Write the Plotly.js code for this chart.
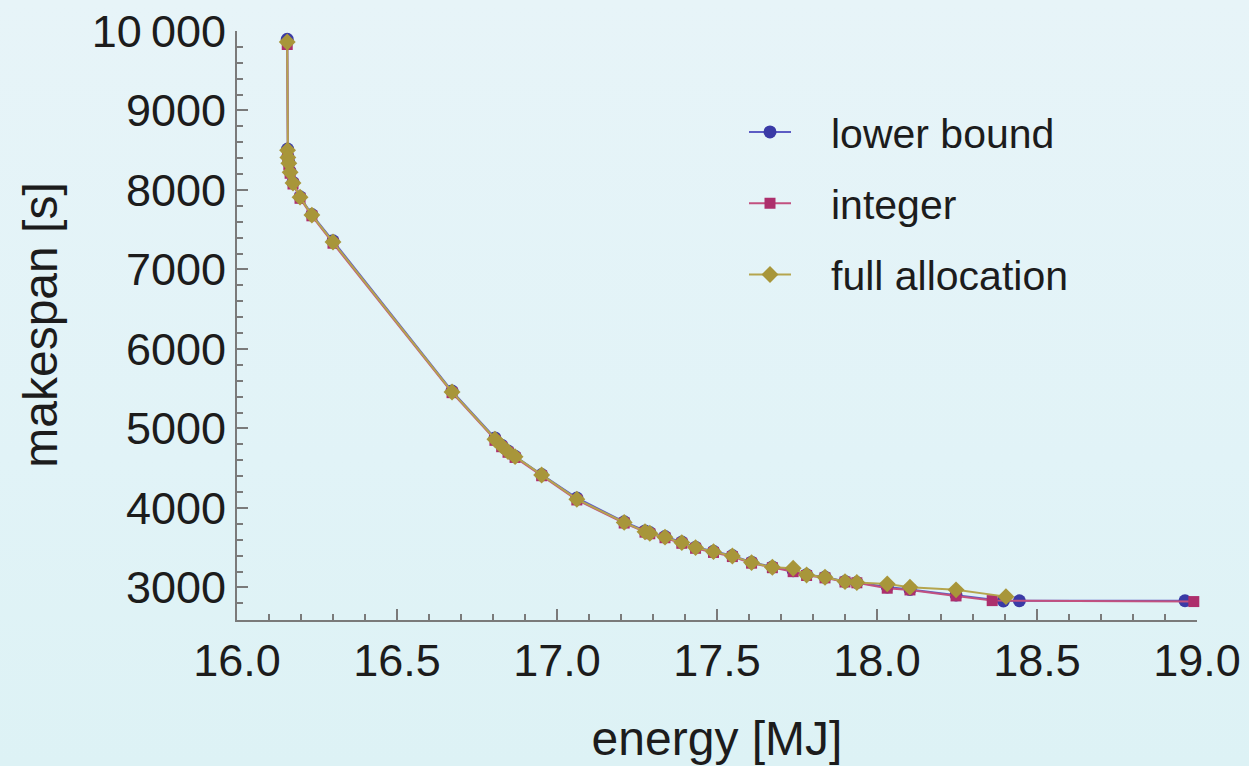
<!DOCTYPE html>
<html>
<head>
<meta charset="utf-8">
<script src="https://cdn.plot.ly/plotly-3.0.1.min.js"></script>
<style>
html,body{margin:0;padding:0;width:1249px;height:766px;overflow:hidden;
background:linear-gradient(180deg,#e7f4f8 0%,#e1f3f7 60%,#ddf2f5 100%);}
#chart{width:1249px;height:766px;}
</style>
</head>
<body>
<div id="chart"></div>
<script>
// energy [MJ] and makespan [s]
const lowerX = [16.157,16.158,16.159,16.162,16.166,16.175,16.197,16.234,16.30,16.672,16.806,16.827,16.847,16.869,16.952,17.062,17.21,17.275,17.29,17.3375,17.39,17.433,17.489,17.548,17.608,17.673,17.738,17.78,17.8375,17.90,17.937,18.032,18.103,18.247,18.395,18.445,18.9625];
const lowerY = [9895,8515,8420,8345,8230,8095,7915,7690,7360,5470,4880,4790,4715,4650,4420,4125,3825,3710,3690,3640,3570,3505,3455,3400,3318,3258,3210,3160,3130,3075,3062,3005,2975,2905,2830,2832,2832];

const integerX = [16.157,16.158,16.159,16.162,16.166,16.175,16.197,16.234,16.30,16.672,16.806,16.827,16.847,16.869,16.952,17.062,17.21,17.275,17.29,17.3375,17.39,17.433,17.489,17.548,17.608,17.673,17.738,17.78,17.8375,17.90,17.937,18.032,18.103,18.247,18.36,18.99];
const integerY = [9830,8470,8395,8320,8210,8075,7895,7675,7330,5450,4850,4770,4700,4635,4405,4100,3810,3695,3675,3625,3555,3492,3440,3388,3305,3248,3198,3150,3120,3068,3058,2990,2968,2893,2834,2822];

const fullX = [16.157,16.158,16.159,16.162,16.166,16.175,16.197,16.234,16.30,16.672,16.806,16.827,16.847,16.869,16.952,17.062,17.21,17.275,17.29,17.3375,17.39,17.433,17.489,17.548,17.608,17.673,17.738,17.78,17.8375,17.90,17.937,18.032,18.103,18.247,18.403];
const fullY = [9862,8500,8410,8335,8222,8088,7910,7684,7345,5459,4864,4780,4708,4645,4415,4110,3818,3701,3681,3632,3564,3501,3450,3396,3312,3254,3241,3157,3128,3073,3061,3044,3003,2969,2884];

const names = ["lower bound","integer","full allocation"];
const yTickVals = [3000,4000,5000,6000,7000,8000,9000,10000];
const yTickText = ["3000","4000","5000","6000","7000","8000","9000","10\u2009000"];
const xTickVals = [16.0,16.5,17.0,17.5,18.0,18.5,19.0];
const xTickText = ["16.0","16.5","17.0","17.5","18.0","18.5","19.0"];
const xTitle = "energy [MJ]";
const yTitle = "makespan [s]";

const font = "Liberation Sans, Arial, Helvetica, sans-serif";
const txt = "#1c1c1c";

const traces = [
  {x: lowerX, y: lowerY, name: names[0], mode: "lines+markers", legendgroup: "a",
   line: {color: "#5c5cc4", width: 2}, marker: {symbol: "circle", size: 13, color: "#3a3aa6"}, cliponaxis: false},
  {x: integerX, y: integerY, name: names[1], mode: "lines+markers", legendgroup: "b",
   line: {color: "#c2507f", width: 2}, marker: {symbol: "square", size: 11, color: "#ad2f6c"}, cliponaxis: false},
  {x: fullX, y: fullY, name: names[2], mode: "lines+markers", legendgroup: "c",
   line: {color: "#b5a54e", width: 2}, marker: {symbol: "diamond", size: 13, color: "#a8963a"}, cliponaxis: false}
];

const layout = {
  width: 1249, height: 766,
  paper_bgcolor: "rgba(0,0,0,0)", plot_bgcolor: "rgba(0,0,0,0)",
  margin: {l: 237, r: 52, t: 31, b: 146},
  font: {family: font, color: txt},
  showlegend: true,
  legend: {x: 0.525, y: 0.885, xanchor: "left", yanchor: "top",
           bgcolor: "rgba(0,0,0,0)", font: {size: 41, family: font, color: txt},
           traceorder: "grouped", tracegroupgap: 15, itemwidth: 80},
  xaxis: {
    range: [16, 19], showgrid: false, zeroline: false,
    showline: true, linecolor: "#7a7a7a", linewidth: 2,
    tickmode: "array", tickvals: xTickVals, ticktext: xTickText,
    ticks: "inside", ticklen: 11, tickwidth: 2, tickcolor: "#7a7a7a",
    minor: {dtick: 0.1, ticks: "inside", ticklen: 6, tickwidth: 2, tickcolor: "#7a7a7a"},
    tickfont: {size: 45, family: font, color: txt},
    title: {text: xTitle, font: {size: 48, family: font, color: txt}, standoff: 36}
  },
  yaxis: {
    range: [2590, 10000], showgrid: false, zeroline: false,
    showline: true, linecolor: "#7a7a7a", linewidth: 2,
    tickmode: "array", tickvals: yTickVals, ticktext: yTickText,
    ticks: "inside", ticklen: 11, tickwidth: 2, tickcolor: "#7a7a7a",
    minor: {dtick: 200, ticks: "inside", ticklen: 6, tickwidth: 2, tickcolor: "#7a7a7a"},
    tickfont: {size: 45, family: font, color: txt}
  },
  annotations: [{
    text: yTitle, xref: "paper", yref: "paper", x: -0.205, y: 0.5,
    xanchor: "center", yanchor: "middle", textangle: -90, showarrow: false,
    font: {size: 48, family: font, color: txt}
  }]
};

Plotly.newPlot("chart", traces, layout, {displayModeBar: false, staticPlot: true}).then(function (gd) {
  // shorten the legend sample lines and centre the markers on them
  gd.querySelectorAll(".legend .traces").forEach(function (tr) {
    const ln = tr.querySelector(".legendlines path");
    if (ln) ln.setAttribute("d", "M8,0h42");
    tr.querySelectorAll(".legendpoints path").forEach(function (p) {
      p.setAttribute("transform", "translate(29,0)");
    });
  });
});
</script>
</body>
</html>
